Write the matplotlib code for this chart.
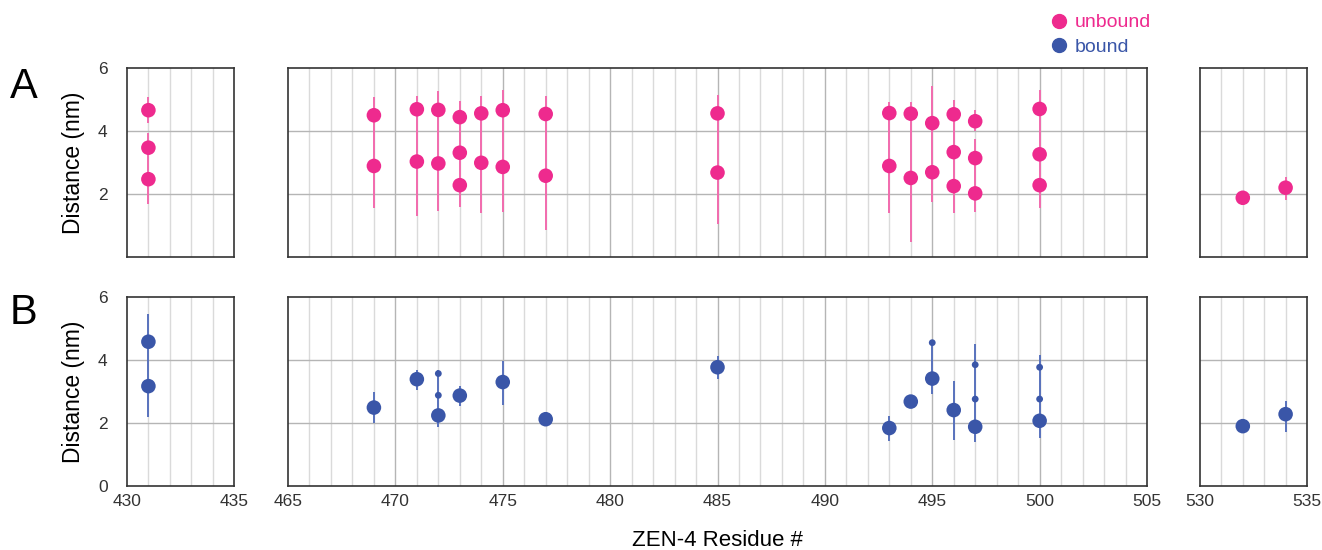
import numpy as np
import matplotlib.pyplot as plt
from matplotlib.lines import Line2D

plt.rcParams['font.family'] = ['Liberation Sans', 'DejaVu Sans']

# unbound (panel A): residue, distance, error bar low / high
ub_res = [431, 431, 431, 469, 469, 471, 471, 472, 472, 473, 473, 473, 474, 474,
          475, 475, 477, 477, 485, 485, 493, 493, 494, 494, 495, 495,
          496, 496, 496, 497, 497, 497, 500, 500, 500, 532, 534]
ub_val = [4.66, 3.47, 2.47, 4.50, 2.89, 4.69, 3.03, 4.67, 2.97, 4.44, 3.31, 2.28, 4.56, 2.99,
          4.66, 2.86, 4.54, 2.58, 4.56, 2.68, 4.57, 2.89, 4.55, 2.51, 4.25, 2.69,
          4.53, 3.33, 2.25, 4.31, 3.14, 2.02, 4.70, 3.26, 2.28, 1.88, 2.20]
ub_lo = [4.25, 3.00, 1.68, 3.60, 1.57, 3.80, 1.31, 3.80, 1.47, 3.80, 2.80, 1.60, 3.70, 1.41,
         3.70, 1.43, 3.50, 0.86, 3.50, 1.04, 3.70, 1.39, 3.50, 0.47, 3.50, 1.76,
         3.90, 2.80, 1.41, 4.00, 2.60, 1.42, 4.00, 2.75, 1.56, 1.88, 1.81]
ub_hi = [5.07, 3.95, 3.00, 5.09, 3.60, 5.11, 3.80, 5.27, 3.80, 4.96, 3.80, 2.80, 5.11, 3.70,
         5.29, 3.70, 5.12, 3.50, 5.13, 3.50, 4.93, 3.70, 4.91, 3.50, 5.43, 3.50,
         4.98, 3.90, 2.80, 4.67, 3.75, 2.60, 5.30, 4.00, 2.75, 1.88, 2.55]

# bound (panel B); small = minor population
b_res = [431, 431, 469, 471, 472, 472, 472, 473, 475, 477, 485, 493, 494, 495, 495,
         496, 497, 497, 497, 500, 500, 500, 532, 534]
b_val = [4.58, 3.17, 2.49, 3.39, 3.57, 2.88, 2.24, 2.87, 3.30, 2.12, 3.77, 1.84, 2.68, 4.55, 3.41,
         2.41, 3.85, 2.76, 1.88, 3.77, 2.76, 2.07, 1.90, 2.28]
b_lo = [3.90, 2.20, 1.99, 3.05, 3.20, 2.60, 1.86, 2.54, 2.57, 2.12, 3.41, 1.44, 2.68, 4.00, 2.92,
        1.46, 3.30, 2.30, 1.41, 3.30, 2.40, 1.51, 1.90, 1.70]
b_hi = [5.46, 3.90, 2.97, 3.68, 3.68, 3.20, 2.60, 3.17, 3.98, 2.12, 4.13, 2.22, 2.68, 4.55, 4.00,
        3.33, 4.50, 3.30, 2.30, 4.16, 3.30, 2.40, 1.90, 2.70]
b_small = [0, 0, 0, 0, 1, 1, 0, 0, 0, 0, 0, 0, 0, 1, 0,
           0, 1, 1, 0, 1, 1, 0, 0, 0]

ranges = [(430, 435), (465, 505), (530, 535)]

pink = '#EE2A8E'
pink_bar = '#F26BAE'
blue = '#3A56A8'
blue_bar = '#5872BD'

W, H = 1322, 550
fig = plt.figure(figsize=(W / 100, H / 100), dpi=100)

col_px = [(127, 234), (288, 1147), (1200, 1307)]
row_px = [(68, 257), (297, 486)]


def draw(ax, res, val, lo, hi, sizes, col, barcol):
    res = np.array(res)
    val = np.array(val)
    lo = np.array(lo)
    hi = np.array(hi)
    ax.errorbar(res, val, yerr=[val - lo, hi - val], fmt='none',
                ecolor=barcol, elinewidth=1.4, capsize=0, zorder=3)
    ax.scatter(res, val, s=sizes, color=col, edgecolors='none', zorder=4)


for r, (top, bot) in enumerate(row_px):
    for c, (x0, x1) in enumerate(col_px):
        ax = fig.add_axes([x0 / W, 1 - bot / H, (x1 - x0) / W, (bot - top) / H])
        lo_x, hi_x = ranges[c]
        ax.set_xlim(lo_x, hi_x)
        ax.set_ylim(0, 6)
        for xx in range(lo_x + 1, hi_x):
            ax.axvline(xx, color='#b5b5b5' if xx % 5 == 0 else '#dadada', lw=1.0, zorder=1)
        for yy in (2, 4):
            ax.axhline(yy, color='#b5b5b5', lw=1.0, zorder=1)
        for s in ax.spines.values():
            s.set_color('#333333')
            s.set_linewidth(1.2)
        ax.tick_params(length=0, labelsize=12.5, colors='#333333', pad=6)
        if r == 0:
            draw(ax, ub_res, ub_val, ub_lo, ub_hi, 110, pink, pink_bar)
            ax.set_xticks([])
        else:
            sz = [24 if s else 110 for s in b_small]
            draw(ax, b_res, b_val, b_lo, b_hi, sz, blue, blue_bar)
            ax.set_xticks(range(lo_x, hi_x + 1, 5))
        if c == 0:
            ax.set_yticks([2, 4, 6] if r == 0 else [0, 2, 4, 6])
            ax.tick_params(axis='y', pad=14)
            ax.set_ylabel('Distance (nm)', fontsize=16.5, labelpad=9)
        else:
            ax.set_yticks([])

fig.text(10 / W, 1 - 87 / H, 'A', fontsize=30, va='center', ha='left')
fig.text(10 / W, 1 - 313 / H, 'B', fontsize=30, va='center', ha='left')
fig.text(717 / W, 1 - 540 / H, 'ZEN-4 Residue #', fontsize=16, ha='center', va='center')

handles = [Line2D([], [], marker='o', ls='none', color=pink, markersize=10),
           Line2D([], [], marker='o', ls='none', color=blue, markersize=10)]
fig.legend(handles, ['unbound', 'bound'], loc='upper left',
           bbox_to_anchor=(1040 / W, 1 - 6 / H), frameon=False, fontsize=14,
           labelcolor=[pink, blue], handletextpad=0.2, labelspacing=0.35,
           handlelength=1.2, borderaxespad=0)

fig.savefig('out.png', dpi=100)
